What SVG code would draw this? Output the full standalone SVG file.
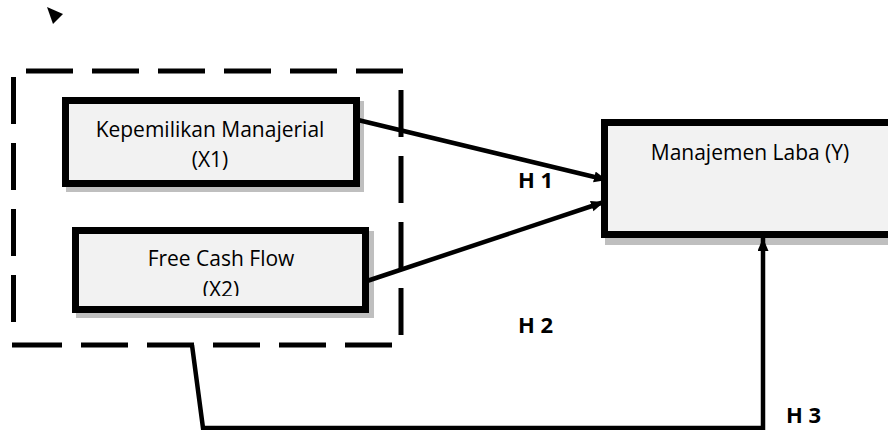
<svg xmlns="http://www.w3.org/2000/svg" width="888" height="430" viewBox="0 0 888 430">
<defs>
<style>
.box{fill:#f2f2f2;stroke:#000;stroke-width:7}
.shadow{fill:#bfbfbf}
.lbl{font-family:"Open Sans","Noto Sans",sans-serif;font-size:21px;fill:#000;text-anchor:middle}
.h{font-family:"Open Sans","Noto Sans",sans-serif;font-size:22px;font-weight:bold;fill:#000}
.conn{fill:none;stroke:#000;stroke-width:4.5}
.dash{fill:none;stroke:#000;stroke-width:5;stroke-dasharray:47 19}
</style>
<marker id="arr" markerWidth="14" markerHeight="12" refX="13" refY="5.5" orient="auto" markerUnits="userSpaceOnUse">
<path d="M0,0 L13,5.5 L0,11 Z" fill="#000"/>
</marker>
<clipPath id="clip2"><rect x="76" y="231" width="290" height="65"/></clipPath>
</defs>
<g id="marker-stray">
<polygon points="47,7 63,14 53,24" fill="#000"/>
</g>
<g id="group-box">
<path class="dash" d="M26,71 L403,71"/>
<path class="dash" d="M401,90 L401,337"/>
<path class="dash" d="M13.5,77 L13.5,330"/>
<path class="dash" d="M12,345 L392,345" style="stroke-dasharray:50 19 47 19 47 19 47 19 47 19 47 19"/>
</g>
<g id="node-x1">
<rect class="shadow" x="66" y="101" width="298" height="91"/>
<rect class="box" x="65.5" y="100.5" width="291" height="83"/>
<text class="lbl" x="210" y="137">Kepemilikan Manajerial</text>
<text class="lbl" x="210" y="167">(X1)</text>
</g>
<g id="node-x2">
<rect class="shadow" x="76" y="231" width="298" height="87"/>
<rect class="box" x="75.5" y="230.5" width="290" height="79"/>
<g clip-path="url(#clip2)">
<text class="lbl" x="221" y="266">Free Cash Flow</text>
<text class="lbl" x="221" y="297">(X2)</text>
</g>
</g>
<g id="node-y">
<rect class="shadow" x="605" y="123" width="300" height="122"/>
<rect class="box" x="604.5" y="122.5" width="300" height="112"/>
<text class="lbl" x="750" y="160">Manajemen Laba (Y)</text>
</g>
<g id="connectors">
<line class="conn" x1="358" y1="120" x2="607" y2="180" marker-end="url(#arr)"/>
<line class="conn" x1="364" y1="282" x2="604" y2="202" marker-end="url(#arr)"/>
<path class="conn" d="M192,345 L203,428 L763,428 L763,238" marker-end="url(#arr)"/>
</g>
<g id="labels">
<text class="h" x="518" y="188">H 1</text>
<text class="h" x="518" y="333">H 2</text>
<text class="h" x="786" y="423">H 3</text>
</g>
</svg>
